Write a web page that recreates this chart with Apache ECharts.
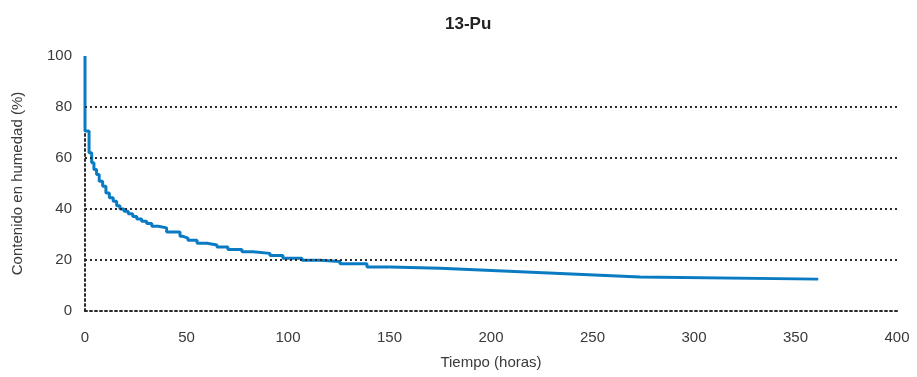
<!DOCTYPE html>
<html><head><meta charset="utf-8">
<script src="https://cdn.jsdelivr.net/npm/echarts@6/dist/echarts.min.js"></script>
<style>html,body{margin:0;padding:0;background:#fff}#c{width:917px;height:377px}</style>
</head><body><div id="c"></div>
<script>
var titleText = '13-Pu';
var xName = 'Tiempo (horas)';
var yName = 'Contenido en humedad (%)';
// Stepped part of the curve [hours, moisture %]
var stepHours = [0,0,2.0,3.3,4.4,5.7,7.0,8.7,10.3,12.0,13.9,15.6,17.2,19.2,21.3,23.5,25.5,27.9,30.4,32.9,36.1,40.2,46.8,48.3,50.7,55.2,60.1,65.0,70.4,77.3,82.8,91.1,97.5,106.9,115.8,125.6,138.9,150.2];
var stepValues = [100,70.6,62.1,58.1,55.5,53.5,50.9,48.9,46.3,44.4,43.0,41.3,40.0,39.1,38.1,37.1,36.1,35.2,34.3,33.2,32.6,31.0,29.3,28.6,27.7,26.6,25.9,25.1,24.1,23.2,22.6,21.8,20.7,19.9,19.4,18.5,17.3,17.3];
// Later sparse part
var tailHours = [150.2,175,273.4,361.2];
var tailValues = [17.3,16.8,13.3,12.5];
var gridValues = [20,40,60,80];

function zip(a,b){return a.map(function(v,i){return [v,b[i]];});}
var blue = '#0a7bc3';
var txt = '#3a3a3a';
var dot = {color:'#2a2a2a', width:2, type:[2,3]};
var chart = echarts.init(document.getElementById('c'));
chart.setOption({
  animation:false,
  textStyle:{fontFamily:'Liberation Sans, Arial, sans-serif'},
  title:{text:titleText, left:440, top:11, textStyle:{fontSize:17, fontWeight:'bold', color:'#222', fontFamily:'Liberation Sans, Arial, sans-serif'}},
  grid:{left:85, right:20, top:56, bottom:66, containLabel:false, outerBoundsMode:'none'},
  xAxis:{type:'value', min:0, max:400, interval:50,
    name:xName, nameLocation:'middle', nameGap:44,
    nameTextStyle:{fontSize:15, color:txt},
    axisLine:{show:true, lineStyle:dot}, axisTick:{show:false},
    axisLabel:{fontSize:15, color:txt, margin:19},
    splitLine:{show:false}},
  yAxis:{type:'value', min:0, max:100, interval:20,
    name:yName, nameLocation:'middle', nameGap:60,
    nameTextStyle:{fontSize:15, color:txt},
    axisLine:{show:true, lineStyle:dot}, axisTick:{show:false},
    axisLabel:{fontSize:15, color:txt, margin:13},
    splitLine:{show:false}},
  series:[
    {type:'line', data:[], markLine:{silent:true, symbol:'none', label:{show:false},
      lineStyle:dot, data:gridValues.map(function(v){return {yAxis:v};})}},
    {type:'line', step:'end', data:zip(stepHours,stepValues), showSymbol:false,
      lineStyle:{color:blue, width:3}, itemStyle:{color:blue}},
    {type:'line', data:zip(tailHours,tailValues), showSymbol:false,
      lineStyle:{color:blue, width:3}, itemStyle:{color:blue}}
  ]
});
</script></body></html>
